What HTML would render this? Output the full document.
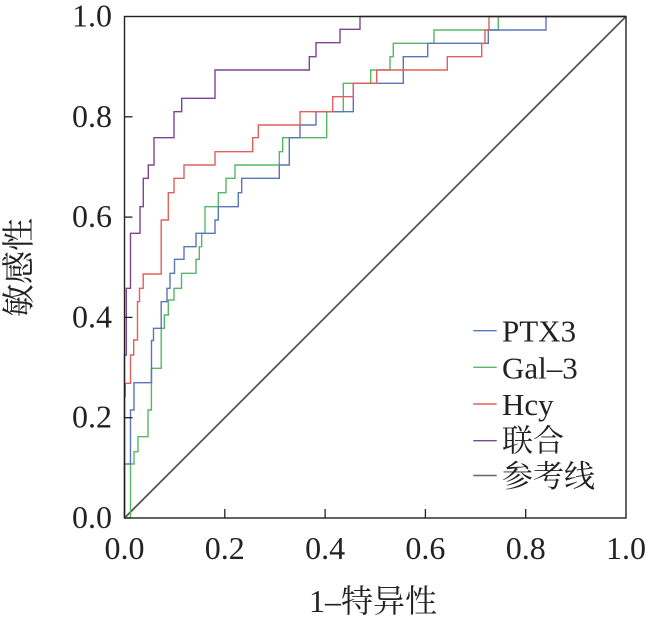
<!DOCTYPE html>
<html>
<head>
<meta charset="utf-8">
<style>
  html, body { margin: 0; padding: 0; background: #ffffff; }
  body { width: 646px; height: 619px; overflow: hidden; }
  svg { display: block; }
  text { font-family: "Liberation Serif", "Times New Roman", "Noto Serif CJK SC", serif; }
  .tick { font-size: 32px; fill: #222; }
  .leg { font-size: 31px; fill: #222; }
  .title { fill: #222; }
</style>
</head>
<body>
<svg width="646" height="619" viewBox="0 0 646 619" xmlns="http://www.w3.org/2000/svg">
  <rect x="0" y="0" width="646" height="619" fill="#ffffff"/>

  <!-- reference diagonal -->
  <line x1="124.5" y1="518" x2="626" y2="16.5" stroke="#555" stroke-width="1.8"/>

  <!-- Green Gal-3 -->
  <path fill="none" stroke="#55b868" stroke-width="1.4"
    d="M124.5 518 H130.5 V464 H134 V451.7 H138 V436.7 H148 V410 H151.4 V368.3 H161.2 V328.3 H164.3 V315 H168.3 V300 H174 V288.3 H181.5 V273.3 H196 V259.3 H199.3 V246.7 H201.7 V233.3 H205 V206.7 H218.3 V192.7 H226 V178.3 H235 V165 H279.3 V151.7 H282.7 V137.7 H326.7 V111.7 H343.3 V83.3 H370.7 V70 H390 V56.7 H393.3 V43.3 H434 V30 H498.3 V16.5 H626"/>

  <!-- Blue PTX3 -->
  <path fill="none" stroke="#5a76ba" stroke-width="1.4"
    d="M124.5 518 V464 H130.5 V410 H134 V382.7 H151.5 V340.5 H153.5 V328.3 H161.2 V301.7 H167 V288.3 H170 V273.3 H174.5 V259.3 H184 V246.7 H196 V233.3 H215 V220 H218.3 V206.7 H238.3 V192.7 H241.7 V178.3 H279.3 V165 H289.3 V137.7 H300 V125 H316 V111.7 H353.3 V83.3 H403.3 V56.7 H427.7 V43.3 H488.3 V30 H546 V16.5 H626"/>

  <!-- Red Hcy -->
  <path fill="none" stroke="#e25f5f" stroke-width="1.4"
    d="M124.5 518 V396.7 H125.3 V383.3 H130.5 V355 H133.7 V340 H137.5 V301.7 H139.5 V288.3 H143.2 V274 H161.2 V220 H168.3 V192.7 H174 V178.3 H184 V165 H215 V151.7 H252.7 V137.7 H258.3 V125 H300 V111.7 H332.7 V96.7 H353.3 V83.3 H376.7 V70 H447.3 V56.7 H481.7 V43.3 H485 V30 H489 V16.5 H626"/>

  <!-- Purple combined -->
  <path fill="none" stroke="#7d4494" stroke-width="1.4"
    d="M124.5 518 V355 H126.3 V288.3 H130.5 V233.3 H140 V206.7 H143.3 V178.3 H148.3 V165 H154 V137.7 H174 V111.7 H181.7 V98.3 H215 V70 H309.3 V56.7 H316 V42.7 H340 V29.3 H360 V16.5 H626"/>

  <!-- frame -->
  <rect x="124.5" y="16.5" width="501.5" height="501.5" fill="none" stroke="#222" stroke-width="1.4"/>

  <!-- ticks -->
  <g stroke="#222" stroke-width="1.3">
    <line x1="224.8" y1="518" x2="224.8" y2="509"/>
    <line x1="325.1" y1="518" x2="325.1" y2="509"/>
    <line x1="425.4" y1="518" x2="425.4" y2="509"/>
    <line x1="525.7" y1="518" x2="525.7" y2="509"/>
    <line x1="124.5" y1="417.7" x2="132.5" y2="417.7"/>
    <line x1="124.5" y1="317.4" x2="132.5" y2="317.4"/>
    <line x1="124.5" y1="217.1" x2="132.5" y2="217.1"/>
    <line x1="124.5" y1="116.8" x2="132.5" y2="116.8"/>
  </g>

  <!-- x tick labels -->
  <g class="tick" text-anchor="middle" font-family="Liberation Serif, Times New Roman, serif" font-size="32">
    <text x="124.5" y="559" font-family="Liberation Serif, Times New Roman, serif">0.0</text>
    <text x="224.8" y="559" font-family="Liberation Serif, Times New Roman, serif">0.2</text>
    <text x="325.1" y="559" font-family="Liberation Serif, Times New Roman, serif">0.4</text>
    <text x="425.4" y="559" font-family="Liberation Serif, Times New Roman, serif">0.6</text>
    <text x="525.7" y="559" font-family="Liberation Serif, Times New Roman, serif">0.8</text>
    <text x="626" y="559" font-family="Liberation Serif, Times New Roman, serif">1.0</text>
  </g>

  <!-- y tick labels -->
  <g class="tick" text-anchor="end" font-family="Liberation Serif, Times New Roman, serif" font-size="32">
    <text x="112" y="528" font-family="Liberation Serif, Times New Roman, serif">0.0</text>
    <text x="112" y="427.7" font-family="Liberation Serif, Times New Roman, serif">0.2</text>
    <text x="112" y="327.4" font-family="Liberation Serif, Times New Roman, serif">0.4</text>
    <text x="112" y="227.1" font-family="Liberation Serif, Times New Roman, serif">0.6</text>
    <text x="112" y="126.8" font-family="Liberation Serif, Times New Roman, serif">0.8</text>
    <text x="112" y="26.5" font-family="Liberation Serif, Times New Roman, serif">1.0</text>
  </g>

  <!-- axis titles -->
  <text class="title" x="373" y="612" font-size="32" text-anchor="middle" font-family="Liberation Serif, Noto Sans CJK SC, serif">1–特异性</text>
  <text class="title" font-size="33" text-anchor="middle" font-family="Liberation Serif, Noto Sans CJK SC, serif" transform="translate(30,267.5) rotate(-90)">敏感性</text>

  <!-- legend -->
  <g stroke-width="1.4">
    <line x1="473.3" y1="330.7" x2="496.7" y2="330.7" stroke="#5a76ba"/>
    <line x1="473.3" y1="367.3" x2="496.7" y2="367.3" stroke="#55b868"/>
    <line x1="473.3" y1="404" x2="496.7" y2="404" stroke="#e25f5f"/>
    <line x1="473.3" y1="440.7" x2="496.7" y2="440.7" stroke="#7d4494"/>
    <line x1="473.3" y1="475.5" x2="496.7" y2="475.5" stroke="#666"/>
  </g>
  <g class="leg" font-size="31">
    <text x="502" y="341.7" font-family="Liberation Serif, Times New Roman, serif">PTX3</text>
    <text x="502" y="378.3" font-family="Liberation Serif, Times New Roman, serif">Gal–3</text>
    <text x="502" y="415" font-family="Liberation Serif, Times New Roman, serif">Hcy</text>
    <text x="502" y="451.5" font-family="Liberation Serif, Noto Sans CJK SC, serif">联合</text>
    <text x="502" y="487" font-family="Liberation Serif, Noto Sans CJK SC, serif">参考线</text>
  </g>
</svg>
</body>
</html>
